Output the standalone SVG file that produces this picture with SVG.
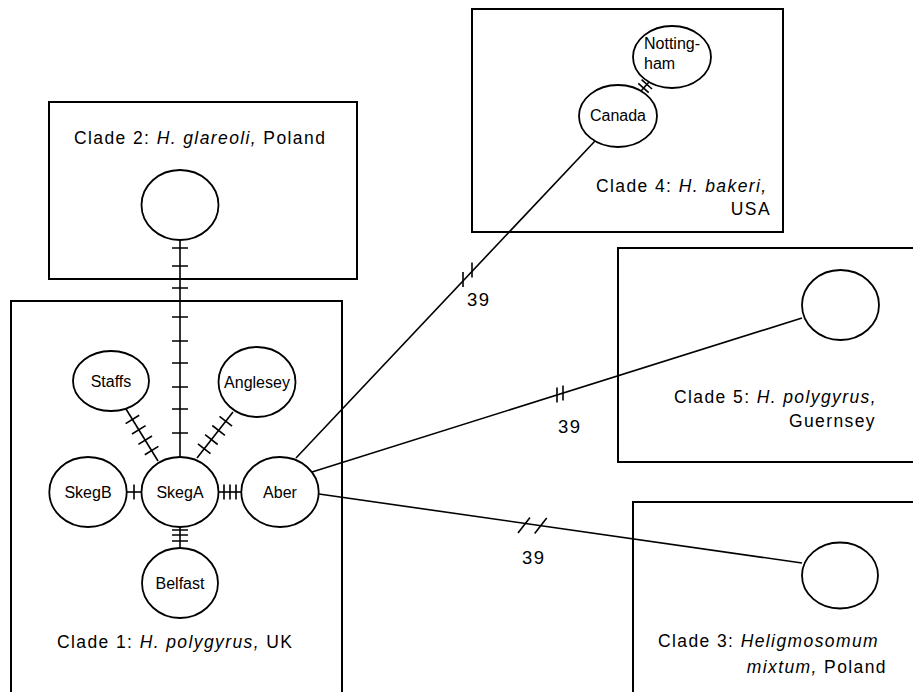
<svg xmlns="http://www.w3.org/2000/svg" width="913" height="692" viewBox="0 0 913 692">
<style>
.box{fill:none;stroke:#000;stroke-width:2}
.node{fill:#fff;stroke:#000;stroke-width:1.8}
.ln{fill:none;stroke:#000;stroke-width:1.6}
.lab{font-family:"Liberation Sans",Arial,sans-serif;font-size:16px;fill:#000}
.ttl{font-family:"Liberation Sans",Arial,sans-serif;font-size:17.5px;letter-spacing:1.4px;fill:#000}
.num{font-family:"Liberation Sans",Arial,sans-serif;font-size:18.5px;letter-spacing:1.4px;fill:#000}
.it{font-style:italic}
</style>
<rect width="913" height="692" fill="#fff"/>
<g id="clades">
<g id="clade2"><rect class="box" x="49" y="102" width="308" height="177"/>
<text class="ttl" x="74" y="144">Clade 2: <tspan class="it">H. glareoli,</tspan> Poland</text></g>
<g id="clade1"><rect class="box" x="11" y="301" width="331" height="400"/>
<text class="ttl" x="57" y="648">Clade 1: <tspan class="it">H. polygyrus,</tspan> UK</text></g>
<g id="clade4"><rect class="box" x="472" y="9" width="311" height="223"/>
<text class="ttl" x="596" y="192">Clade 4: <tspan class="it">H. bakeri,</tspan></text>
<text class="ttl" x="771" y="215" text-anchor="end">USA</text></g>
<g id="clade5"><rect class="box" x="618" y="248" width="310" height="214"/>
<text class="ttl" x="877" y="403" text-anchor="end">Clade 5: <tspan class="it">H. polygyrus,</tspan></text>
<text class="ttl" x="876" y="427" text-anchor="end">Guernsey</text></g>
<g id="clade3"><rect class="box" x="633" y="502" width="300" height="200"/>
<text class="ttl" x="658" y="647">Clade 3:  <tspan class="it">Heligmosomum</tspan></text>
<text class="ttl" x="887" y="673" text-anchor="end"><tspan class="it">mixtum,</tspan> Poland</text></g>
</g>
<g id="connectors">
<path class="ln" d="M180 240V457"/>
<path class="ln" d="M172 248h16M172 266h16M172 288h16M172 317h16M172 341h16M172 363h16M172 387h16M172 409h16M172 433h16"/>
<path class="ln" d="M126 409L158 461"/>
<path class="ln" d="M125.6 423.6l13.6 -8.4M132 434l13.6 -8.4M138.4 444.4l13.6 -8.4M144.8 454.8l13.6 -8.4"/>
<path class="ln" d="M197 458L233 412"/>
<path class="ln" d="M197.9 443.9l12.6 9.8M205.1 434.7l12.6 9.8M212.3 425.5l12.6 9.8M219.5 416.3l12.6 9.8"/>
<path class="ln" d="M127 492H142"/>
<path class="ln" d="M134 484.5v15"/>
<path class="ln" d="M218 492H242"/>
<path class="ln" d="M224 484.5v15M230 484.5v15M236 484.5v15"/>
<path class="ln" d="M180 527V548"/>
<path class="ln" d="M172 530h16M172 535h16M172 541h16"/>
<path class="ln" d="M296 458L595 141"/>
<path class="ln" d="M463 272v15M472 262.5v15"/>
<path class="ln" d="M641 91L649 82"/>
<path class="ln" d="M638.3 83.3l10.4 9.4M641.6 79.6l10.4 9.4"/>
<path class="ln" d="M312 472L802 318"/>
<path class="ln" d="M557 387.5v15M563 385.6v15"/>
<path class="ln" d="M319 494L802 563"/>
<path class="ln" d="M518 533l12 -15.5M534.7 533.4l12 -15.5"/>
<text class="num" x="467" y="306">39</text>
<text class="num" x="558" y="433">39</text>
<text class="num" x="522" y="564">39</text>
</g>
<g id="n-clade2"><ellipse class="node" cx="180" cy="205" rx="38.5" ry="35"/></g>
<g id="n-staffs"><ellipse class="node" cx="111" cy="381" rx="38" ry="30"/><text class="lab" x="111" y="387" text-anchor="middle">Staffs</text></g>
<g id="n-anglesey"><ellipse class="node" cx="257" cy="382" rx="38.5" ry="35"/><text class="lab" x="257" y="388" text-anchor="middle">Anglesey</text></g>
<g id="n-skegb"><ellipse class="node" cx="88" cy="492" rx="38.7" ry="35"/><text class="lab" x="88" y="498" text-anchor="middle">SkegB</text></g>
<g id="n-skega"><ellipse class="node" cx="180" cy="492" rx="38.5" ry="35"/><text class="lab" x="180" y="498" text-anchor="middle">SkegA</text></g>
<g id="n-aber"><ellipse class="node" cx="280" cy="492" rx="38.7" ry="35"/><text class="lab" x="280" y="498" text-anchor="middle">Aber</text></g>
<g id="n-belfast"><ellipse class="node" cx="180" cy="583" rx="38" ry="35"/><text class="lab" x="180" y="589" text-anchor="middle">Belfast</text></g>
<g id="n-canada"><ellipse class="node" cx="618" cy="116" rx="39" ry="31"/><text class="lab" x="618" y="121" text-anchor="middle">Canada</text></g>
<g id="n-nottingham"><ellipse class="node" cx="672" cy="57" rx="39" ry="31"/><text class="lab" x="644" y="49">Notting-</text><text class="lab" x="644" y="69">ham</text></g>
<g id="n-clade5"><ellipse class="node" cx="840.5" cy="305" rx="38.5" ry="35"/></g>
<g id="n-clade3"><ellipse class="node" cx="840" cy="575.5" rx="38" ry="33"/></g>
</svg>
